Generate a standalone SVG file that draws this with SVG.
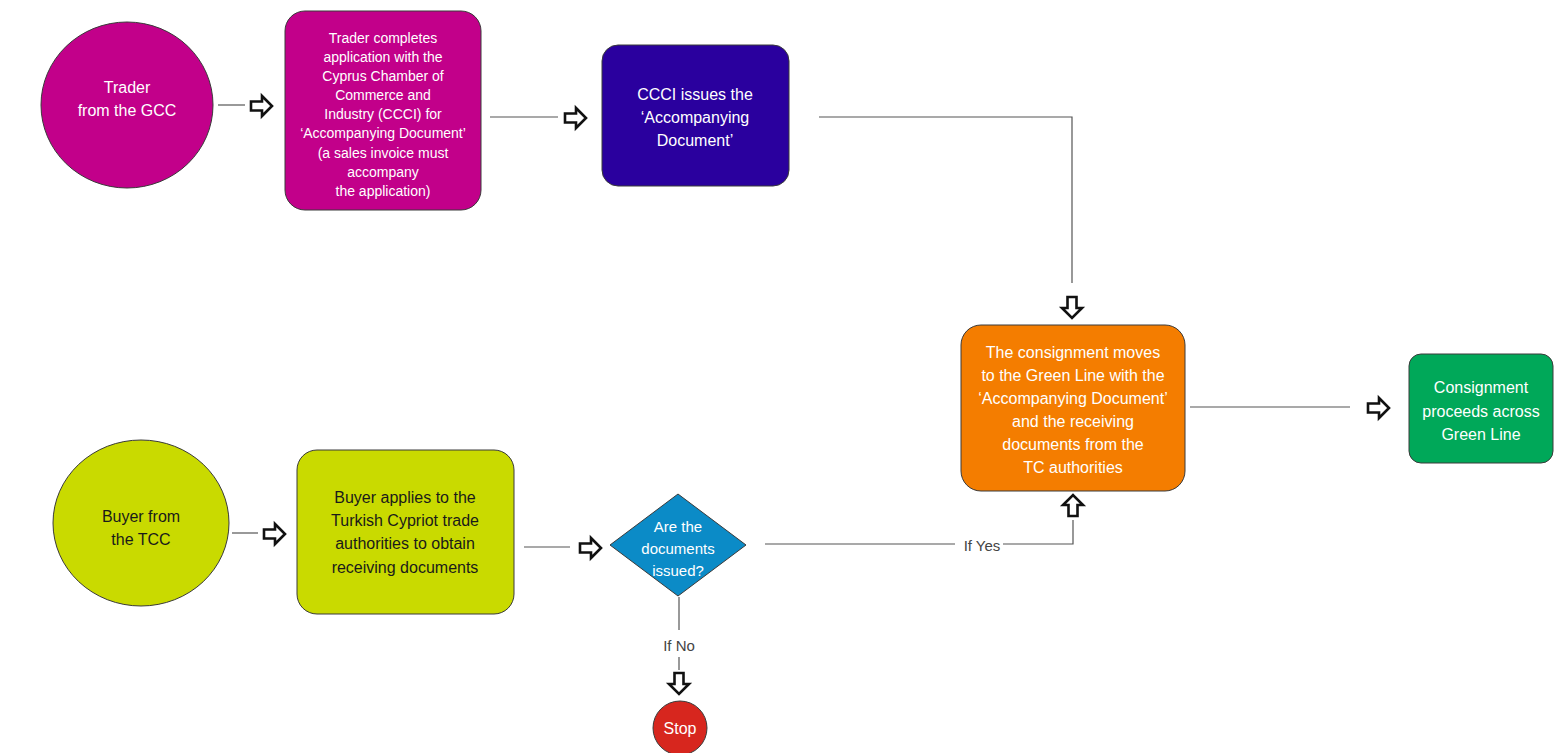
<svg xmlns="http://www.w3.org/2000/svg" width="1554" height="753" viewBox="0 0 1554 753">
<style>
.node{stroke:#3a3a3a;stroke-width:1}
.t{font-family:"Liberation Sans",Arial,sans-serif;font-size:15px;fill:#fff;text-anchor:middle}
.td{fill:#1a1a1a}
.lbl{font-family:"Liberation Sans",Arial,sans-serif;font-size:15px;fill:#444;text-anchor:middle}
.ln{fill:none;stroke:#555;stroke-width:1.2}
.ar{fill:#fff;stroke:#111;stroke-width:2.6;stroke-linejoin:miter}
</style>
<defs>
<path id="blk" class="ar" d="M-10,-4.5 H1 V-10 L11,0 L1,10 V4.5 H-10 Z"/>
</defs>
<g id="connectors">
<line class="ln" x1="218" y1="105" x2="245" y2="105"/>
<use href="#blk" transform="translate(261,106)"/>
<line class="ln" x1="490" y1="117" x2="558" y2="117"/>
<use href="#blk" transform="translate(575,118)"/>
<polyline class="ln" points="819,117 1072,117 1072,283"/>
<use href="#blk" transform="translate(1072,307) rotate(90)"/>
<line class="ln" x1="1190" y1="407" x2="1350" y2="407"/>
<use href="#blk" transform="translate(1378,408)"/>
<line class="ln" x1="232" y1="533" x2="258" y2="533"/>
<use href="#blk" transform="translate(274,534)"/>
<line class="ln" x1="524" y1="547" x2="570" y2="547"/>
<use href="#blk" transform="translate(590,548)"/>
<line class="ln" x1="765" y1="544" x2="955" y2="544"/>
<polyline class="ln" points="1003,544 1073,544 1073,520"/>
<use href="#blk" transform="translate(1073,506) rotate(-90)"/>
<text class="lbl" x="982" y="551">If Yes</text>
<line class="ln" x1="679" y1="597" x2="679" y2="630"/>
<text class="lbl" x="679" y="651">If No</text>
<line class="ln" x1="679" y1="657" x2="679" y2="670"/>
<use href="#blk" transform="translate(679,683) rotate(90)"/>
</g>
<g id="trader">
<ellipse class="node" cx="127" cy="105" rx="86" ry="83" fill="#C2008A"/>
<text class="t" x="127" y="93" style="font-size:16px">Trader</text>
<text class="t" x="127" y="116" style="font-size:16px">from the GCC</text>
</g>
<g id="application">
<rect class="node" x="285" y="11" width="196" height="199" rx="20" fill="#C2008A"/>
<text class="t" x="383" y="43" style="font-size:14px">Trader completes</text>
<text class="t" x="383" y="62" style="font-size:14px">application with the</text>
<text class="t" x="383" y="81" style="font-size:14px">Cyprus Chamber of</text>
<text class="t" x="383" y="100" style="font-size:14px">Commerce and</text>
<text class="t" x="383" y="119" style="font-size:14px">Industry (CCCI) for</text>
<text class="t" x="383" y="138" style="font-size:14px">‘Accompanying Document’</text>
<text class="t" x="383" y="158" style="font-size:14px">(a sales invoice must</text>
<text class="t" x="383" y="177" style="font-size:14px">accompany</text>
<text class="t" x="383" y="196" style="font-size:14px">the application)</text>
</g>
<g id="ccci">
<rect class="node" x="602" y="45" width="187" height="141" rx="16" fill="#2A009E"/>
<text class="t" x="695" y="100" style="font-size:16px">CCCI issues the</text>
<text class="t" x="695" y="123" style="font-size:16px">‘Accompanying</text>
<text class="t" x="695" y="146" style="font-size:16px">Document’</text>
</g>
<g id="consignment">
<rect class="node" x="961" y="325" width="224" height="166" rx="20" fill="#F47D00"/>
<text class="t" x="1073" y="358" style="font-size:16px">The consignment moves</text>
<text class="t" x="1073" y="381" style="font-size:16px">to the Green Line with the</text>
<text class="t" x="1073" y="404" style="font-size:16px">‘Accompanying Document’</text>
<text class="t" x="1073" y="427" style="font-size:16px">and the receiving</text>
<text class="t" x="1073" y="450" style="font-size:16px">documents from the</text>
<text class="t" x="1073" y="473" style="font-size:16px">TC authorities</text>
</g>
<g id="proceeds">
<rect class="node" x="1409" y="354" width="144" height="109" rx="12" fill="#00A859"/>
<text class="t" x="1481" y="393" style="font-size:16px">Consignment</text>
<text class="t" x="1481" y="417" style="font-size:16px">proceeds across</text>
<text class="t" x="1481" y="440" style="font-size:16px">Green Line</text>
</g>
<g id="buyer">
<ellipse class="node" cx="141" cy="523" rx="88" ry="83" fill="#C9DA00"/>
<text class="t td" x="141" y="522" style="font-size:16px">Buyer from</text>
<text class="t td" x="141" y="545" style="font-size:16px">the TCC</text>
</g>
<g id="buyer-applies">
<rect class="node" x="297" y="450" width="217" height="164" rx="20" fill="#C9DA00"/>
<text class="t td" x="405" y="503" style="font-size:16px">Buyer applies to the</text>
<text class="t td" x="405" y="526" style="font-size:16px">Turkish Cypriot trade</text>
<text class="t td" x="405" y="549" style="font-size:16px">authorities to obtain</text>
<text class="t td" x="405" y="573" style="font-size:16px">receiving documents</text>
</g>
<g id="decision">
<polygon class="node" points="678,494 746,545 678,596 610,545" fill="#0B8BC7"/>
<text class="t" x="678" y="532" style="font-size:15px">Are the</text>
<text class="t" x="678" y="554" style="font-size:15px">documents</text>
<text class="t" x="678" y="576" style="font-size:15px">issued?</text>
</g>
<g id="stop">
<circle class="node" cx="680" cy="728" r="27" fill="#D7261E"/>
<text class="t" x="680" y="734" style="font-size:16px">Stop</text>
</g>
</svg>
